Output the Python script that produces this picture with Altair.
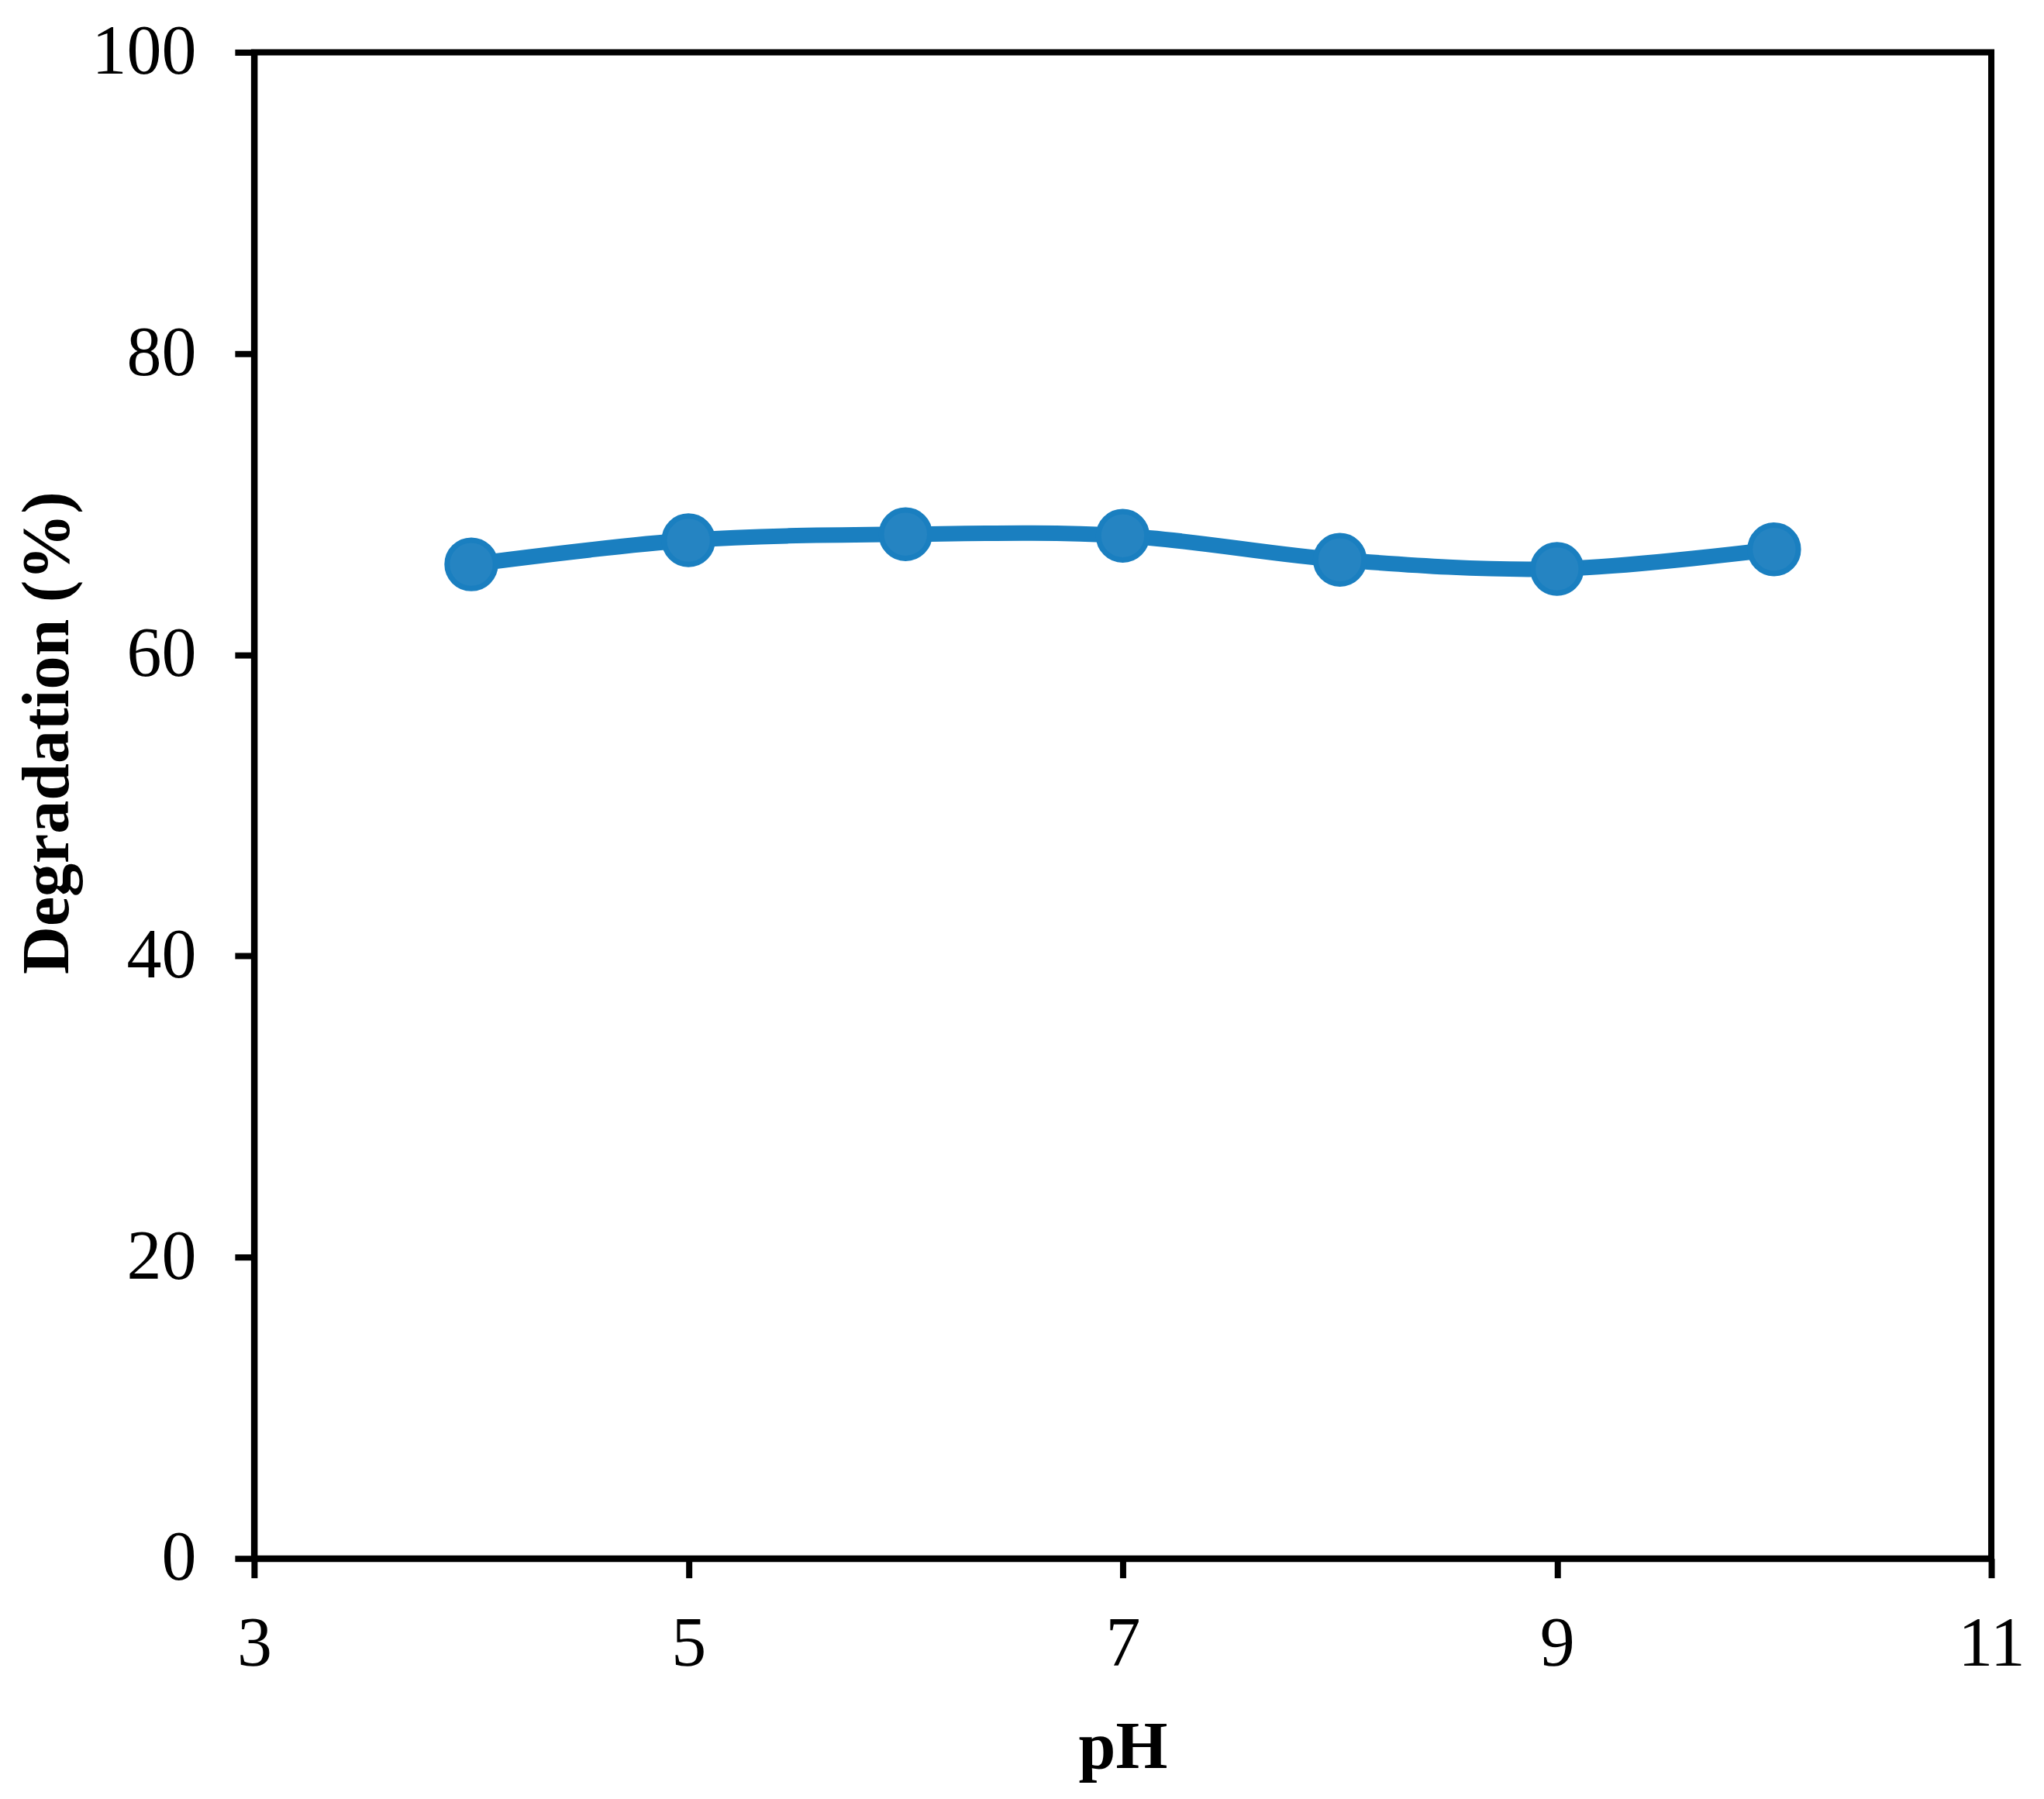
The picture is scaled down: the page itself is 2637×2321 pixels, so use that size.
import altair as alt
import pandas as pd

ph = [4, 5, 6, 7, 8, 9, 10]
degradation = [66.0, 67.6, 68.0, 67.9, 66.3, 65.7, 67.0]
x_ticks = [3, 5, 7, 9, 11]
y_ticks = [0, 20, 40, 60, 80, 100]

df = pd.DataFrame({"pH": ph, "Degradation": degradation})

FONT = "Liberation Serif"
LINE_COLOR = "#1a7fc0"
FILL_COLOR = "#2584c2"
AXIS_W = 8

x_enc = alt.X(
    "pH:Q",
    scale=alt.Scale(domain=[3, 11], nice=False, zero=False),
    axis=alt.Axis(
        values=x_ticks,
        title="pH",
        grid=False,
        domainColor="black",
        domainWidth=AXIS_W,
        tickColor="black",
        tickWidth=AXIS_W,
        tickSize=25,
        labelFlush=False,
        labelFont=FONT,
        labelFontSize=90,
        labelColor="black",
        labelPadding=42,
        titleFont=FONT,
        titleFontSize=86,
        titleFontWeight="bold",
        titleColor="black",
        titlePadding=46,
    ),
)
y_enc = alt.Y(
    "Degradation:Q",
    scale=alt.Scale(domain=[0, 100], nice=False),
    axis=alt.Axis(
        values=y_ticks,
        title="Degradation (%)",
        grid=False,
        domainColor="black",
        domainWidth=AXIS_W,
        tickColor="black",
        tickWidth=AXIS_W,
        tickSize=25,
        labelFlush=False,
        labelFont=FONT,
        labelFontSize=90,
        labelColor="black",
        labelPadding=50,
        titleFont=FONT,
        titleFontSize=86,
        titleFontWeight="bold",
        titleColor="black",
        titleX=-222,
        titleY=878,
    ),
)

line = alt.Chart(df).mark_line(
    color=LINE_COLOR, strokeWidth=20, interpolate="catmull-rom"
).encode(x=x_enc, y=y_enc)

points = alt.Chart(df).mark_point(
    filled=True, fill=FILL_COLOR, stroke=LINE_COLOR, strokeWidth=7,
    size=3900, opacity=1, shape="circle"
).encode(x=x_enc, y=y_enc)

chart = (line + points).properties(
    width=2242,
    height=1944,
    autosize="none",
    padding={"left": 320, "top": 59, "right": 60, "bottom": 300},
    background="white",
).configure_view(stroke="black", strokeWidth=AXIS_W)

chart.save("out.html", embed_options={"renderer": "svg", "actions": False})
